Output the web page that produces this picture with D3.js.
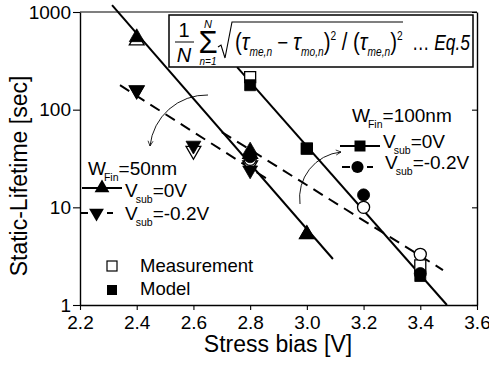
<!DOCTYPE html>
<html>
<head>
<meta charset="utf-8">
<script src="https://cdn.jsdelivr.net/npm/d3@7"></script>
<style>
  body { margin: 0; background: #fff; }
  text { font-family: "Liberation Sans", Arial, sans-serif; }
</style>
</head>
<body>
<div id="chart"></div>
<script>
const xTicks = [2.2, 2.4, 2.6, 2.8, 3.0, 3.2, 3.4, 3.6];
const xMinor = [2.3, 2.5, 2.7, 2.9, 3.1, 3.3, 3.5];
const yTicks = [1, 10, 100, 1000];

// W_Fin = 50nm, Vsub = 0V  (triangle up)
const tri0Bias = [2.4, 2.8, 3.0];
const tri0Meas = [510, 35, 5.3];
const tri0Model = [550, 38, 5.3];
// W_Fin = 50nm, Vsub = -0.2V  (triangle down)
const triNBias = [2.4, 2.6, 2.8];
const triNMeas = [158, 38, 27];
const triNModel = [158, 43, 24];
// W_Fin = 100nm, Vsub = 0V  (square)
const sq0Bias = [2.8, 3.0, 3.4];
const sq0Meas = [215, 40, 2.55];
const sq0Model = [178, 40, 1.98];
// W_Fin = 100nm, Vsub = -0.2V  (circle)
const cirBias = [2.8, 3.2, 3.4];
const cirMeas = [31, 10, 3.3];
const cirModel = [33, 13.4, 2.1];

// fitted lines [bias, lifetime]
const fitTri0 = [[2.313, 1175], [3.092, 2.96]];
const fitTriN = [[2.341, 178], [2.86, 19.5]];
const fitSq0 = [[2.754, 273], [3.494, 1]];
const fitCir = [[2.70, 59], [3.48, 2.28]];

const width = 489, height = 366;
const svg = d3.select('#chart').append('svg')
  .attr('width', width)
  .attr('height', height);

const x = d3.scaleLinear().domain([2.2, 3.6]).range([80, 477]);
const y = d3.scaleLog().domain([1, 1000]).range([305, 12]);

let yMinor = [];
[1, 10, 100].forEach(d => { for (let k = 2; k <= 9; k++) yMinor.push(k * d); });

// frame top line
svg.append('line')
  .attr('x1', 80).attr('x2', 477).attr('y1', 12).attr('y2', 12)
  .attr('stroke', '#555').attr('stroke-width', 1.5);

// bottom axis
let gx = svg.append('g').attr('transform', 'translate(0,305)');
gx.call(d3.axisBottom(x).tickValues(xMinor).tickSize(3).tickSizeOuter(0).tickFormat(''));
gx.call(d3.axisBottom(x).tickValues(xTicks).tickSize(5).tickSizeOuter(0).tickPadding(6)
  .tickFormat(d3.format('.1f')));
gx.selectAll('text').attr('font-size', 19).attr('fill', '#000');

// left axis
let gy = svg.append('g').attr('transform', 'translate(80,0)');
gy.call(d3.axisLeft(y).tickValues(yMinor).tickSize(4).tickSizeOuter(0).tickFormat(''));
gy.call(d3.axisLeft(y).tickValues(yTicks).tickSize(7).tickSizeOuter(0).tickPadding(2)
  .tickFormat(d3.format('d')));
gy.selectAll('text').attr('font-size', 19).attr('fill', '#000');

// right axis (mirror)
let gr = svg.append('g').attr('transform', 'translate(477,0)');
gr.call(d3.axisLeft(y).tickValues(yMinor).tickSize(3).tickSizeOuter(0).tickFormat(''));
gr.call(d3.axisLeft(y).tickValues(yTicks).tickSize(5).tickSizeOuter(0).tickFormat(''));

svg.selectAll('.domain').attr('stroke-width', 1.4);
svg.selectAll('.tick line').attr('stroke-width', 1.1);

// axis titles
svg.append('text')
  .attr('x', 278).attr('y', 352)
  .attr('text-anchor', 'middle')
  .attr('font-size', 23)
  .text('Stress bias [V]');
svg.append('text')
  .attr('transform', 'translate(27,176) rotate(-90)')
  .attr('text-anchor', 'middle')
  .attr('font-size', 23)
  .text('Static-Lifetime [sec]');

// fit lines
let line = d3.line().x(d => x(d[0])).y(d => y(d[1]));
function fit(pts, dashed) {
  svg.append('path')
    .attr('d', line(pts))
    .attr('fill', 'none')
    .attr('stroke', '#000')
    .attr('stroke-width', 2)
    .attr('stroke-dasharray', dashed ? '11,7' : null);
}
fit(fitTri0, false);
fit(fitTriN, true);
fit(fitSq0, false);
fit(fitCir, true);

// markers
let sym = {
  up: d3.symbol().type(d3.symbolTriangle).size(95),
  down: d3.symbol().type(d3.symbolTriangle).size(95),
  square: d3.symbol().type(d3.symbolSquare).size(121),
  circle: d3.symbol().type(d3.symbolCircle).size(115)
};
function points(bias, vals, shape, open) {
  svg.append('g').selectAll('path')
    .data(bias.map((b, i) => [b, vals[i]]))
    .enter()
    .append('path')
    .attr('d', sym[shape]())
    .attr('transform', d => 'translate(' + x(d[0]) + ',' + y(d[1]) + ')' + (shape == 'down' ? ' rotate(180)' : ''))
    .attr('fill', open ? '#fff' : '#000')
    .attr('stroke', '#000')
    .attr('stroke-width', open ? 1.3 : 0.8);
}
points(tri0Bias, tri0Meas, 'up', true);
points(triNBias, triNMeas, 'down', true);
points(sq0Bias, sq0Meas, 'square', true);
points(cirBias, cirMeas, 'circle', true);
points(tri0Bias, tri0Model, 'up', false);
points(triNBias, triNModel, 'down', false);
points(sq0Bias, sq0Model, 'square', false);
points(cirBias, cirModel, 'circle', false);

// curved arrows
svg.append('defs').append('marker')
  .attr('id', 'arr')
  .attr('viewBox', '0 0 10 10')
  .attr('refX', 9).attr('refY', 5)
  .attr('markerWidth', 7).attr('markerHeight', 7)
  .attr('orient', 'auto')
  .append('path')
  .attr('d', 'M1,1 L9,5 L1,9')
  .attr('fill', 'none')
  .attr('stroke', '#000')
  .attr('stroke-width', 1.2);
svg.append('path')
  .attr('d', 'M208,95 A57,57 0 0,0 150,146')
  .attr('fill', 'none').attr('stroke', '#000').attr('stroke-width', 0.9)
  .attr('marker-end', 'url(#arr)');
svg.append('path')
  .attr('d', 'M300,204 A46,46 0 0,1 341,152')
  .attr('fill', 'none').attr('stroke', '#000').attr('stroke-width', 0.9)
  .attr('marker-end', 'url(#arr)');

// legends
function subLabel(xp, yb, main, sub, rest, fs) {
  let t = svg.append('text').attr('x', xp).attr('y', yb).attr('font-size', fs);
  t.append('tspan').text(main);
  t.append('tspan').attr('font-size', 10.5).attr('dx', -2).attr('dy', 6).text(sub);
  t.append('tspan').attr('dy', -6).text(rest);
}
function legRow(x1, x2, yy, shape, dashed) {
  if (dashed) {
    svg.append('line').attr('x1', x1).attr('x2', x1 + 8).attr('y1', yy).attr('y2', yy)
      .attr('stroke', '#000').attr('stroke-width', 2);
    svg.append('line').attr('x1', x2 - 6).attr('x2', x2).attr('y1', yy).attr('y2', yy)
      .attr('stroke', '#000').attr('stroke-width', 2);
  } else {
    svg.append('line').attr('x1', x1).attr('x2', x2).attr('y1', yy).attr('y2', yy)
      .attr('stroke', '#000').attr('stroke-width', 2);
  }
  svg.append('path')
    .attr('d', sym[shape]())
    .attr('transform', 'translate(' + ((x1 + x2) / 2) + ',' + yy + ')' + (shape == 'down' ? ' rotate(180)' : ''))
    .attr('fill', '#000');
}

subLabel(88, 175, 'W', 'Fin', '=50nm', 19);
legRow(82, 122, 188, 'up', false);
subLabel(125, 197, 'V', 'sub', '=0V', 19);
legRow(80, 113, 213, 'down', true);
subLabel(125, 220, 'V', 'sub', '=-0.2V', 19);

subLabel(352, 122, 'W', 'Fin', '=100nm', 19);
legRow(340, 380, 146, 'square', false);
subLabel(383, 148, 'V', 'sub', '=0V', 19);
legRow(342, 373, 167, 'circle', true);
subLabel(385, 169, 'V', 'sub', '=-0.2V', 19);

// measurement / model legend
svg.append('rect').attr('x', 107).attr('y', 261).attr('width', 10).attr('height', 10)
  .attr('fill', '#fff').attr('stroke', '#000').attr('stroke-width', 1.2);
svg.append('rect').attr('x', 107).attr('y', 285).attr('width', 10).attr('height', 10)
  .attr('fill', '#000');
svg.append('text').attr('x', 140).attr('y', 272).attr('font-size', 18.5).text('Measurement');
svg.append('text').attr('x', 140).attr('y', 295).attr('font-size', 18.5).text('Model');

// equation box
let eq = svg.append('g');
eq.append('rect').attr('x', 169).attr('y', 15).attr('width', 304).attr('height', 52)
  .attr('fill', '#fff').attr('stroke', '#000').attr('stroke-width', 1.5);
let serif = '"Liberation Serif", "Times New Roman", serif';
eq.append('text').attr('x', 184).attr('y', 37).attr('font-family', serif).attr('font-size', 20)
  .attr('text-anchor', 'middle').text('1');
eq.append('line').attr('x1', 175).attr('x2', 194).attr('y1', 42).attr('y2', 42)
  .attr('stroke', '#000').attr('stroke-width', 1);
eq.append('text').attr('x', 184).attr('y', 62).attr('font-family', serif).attr('font-size', 20)
  .attr('font-style', 'italic').attr('text-anchor', 'middle').text('N');
eq.append('text').attr('x', 208).attr('y', 53).attr('font-family', serif).attr('font-size', 31)
  .attr('text-anchor', 'middle').text('\u03a3');
eq.append('text').attr('x', 208).attr('y', 28).attr('font-family', serif).attr('font-size', 11)
  .attr('font-style', 'italic').attr('text-anchor', 'middle').text('N');
eq.append('text').attr('x', 208).attr('y', 65).attr('font-family', serif).attr('font-size', 10)
  .attr('font-style', 'italic').attr('text-anchor', 'middle').text('n=1');
eq.append('path').attr('d', 'M218,47 L221,45 L225,58 L232,22 L403,22')
  .attr('fill', 'none').attr('stroke', '#000').attr('stroke-width', 1.1);

let rad = eq.append('text').attr('x', 235).attr('y', 50)
  .attr('font-family', serif).attr('font-size', 24);
let parts = [
  ['(', 0, 24, false], ['\u03c4', 0, 24, true], ['me,n', 6, 12, true],
  [' \u2212 ', -6, 22, false], ['\u03c4', 0, 24, true], ['mo,n', 6, 12, true],
  [')', -6, 24, false], ['2', -10, 12, false], [' / ', 10, 24, false],
  ['(', 0, 24, false], ['\u03c4', 0, 24, true], ['me,n', 6, 12, true],
  [')', -6, 24, false], ['2', -10, 12, false]
];
parts.forEach(p => {
  rad.append('tspan').attr('dy', p[1]).attr('font-size', p[2])
    .attr('font-style', p[3] ? 'italic' : 'normal').text(p[0]);
});
let w = rad.node().getBBox().width;
let k = 168 / w;
rad.attr('transform', 'translate(235,0) scale(' + k + ',1) translate(-235,0)');

eq.append('text').attr('x', 412).attr('y', 50).attr('font-family', serif).attr('font-size', 22)
  .attr('textLength', 58).attr('lengthAdjust', 'spacingAndGlyphs')
  .html('\u2026 <tspan font-style="italic">Eq.5</tspan>');
</script>
</body>
</html>
